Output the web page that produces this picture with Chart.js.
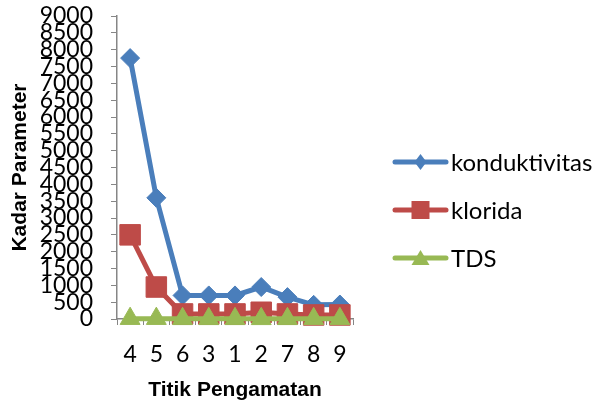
<!DOCTYPE html>
<html>
<head>
<meta charset="utf-8">
<script src="https://cdn.jsdelivr.net/npm/chart.js@4.4.1/dist/chart.umd.min.js"></script>
<style>
    html, body { margin: 0; padding: 0; background: #ffffff; }
    #wrap { width: 607px; height: 401px; }
</style>
</head>
<body>
<div id="wrap"><canvas id="kadarChart"></canvas></div>
<script>
// titik pengamatan, urut seperti di grafik
var titikLabels = ['4', '5', '6', '3', '1', '2', '7', '8', '9'];

var konduktivitas = [7750, 3600, 700, 700, 700, 950, 650, 420, 430];
var klorida = [2500, 950, 150, 150, 150, 200, 150, 120, 120];
var tds = [10, 10, 5, 5, 5, 5, 5, 5, 5];

var seriesNames = ['konduktivitas', 'klorida', 'TDS'];
var seriesColors = ['#4a7ebb', '#be4b48', '#98b954'];
var seriesShapes = ['rectRot', 'rect', 'triangle'];

var yMin = 0;
var yMax = 9000;
var yStep = 500;

var axisColor = '#868686';

// legenda digambar sendiri (legend bawaan di kanan dibatasi lebarnya)
var legendX = 393;
var legendY = 162;
var legendGap = 48;

function drawLegendMarker(ctx, x, y, color, shape) {
    ctx.strokeStyle = color;
    ctx.fillStyle = color;
    ctx.lineWidth = 5;
    ctx.lineCap = 'round';
    ctx.beginPath();
    ctx.moveTo(x + 2, y);
    ctx.lineTo(x + 53, y);
    ctx.stroke();

    var cx = x + 27.5;
    ctx.beginPath();
    if (shape === 'rectRot') {
        ctx.moveTo(cx, y - 8);
        ctx.lineTo(cx + 6, y);
        ctx.lineTo(cx, y + 8);
        ctx.lineTo(cx - 6, y);
    } else if (shape === 'rect') {
        ctx.rect(cx - 9, y - 9, 18, 18);
    } else {
        ctx.moveTo(cx, y - 8);
        ctx.lineTo(cx + 9, y + 7);
        ctx.lineTo(cx - 9, y + 7);
    }
    ctx.closePath();
    ctx.fill();
}

var legendKanan = {
    id: 'legendKanan',
    afterDraw: function (chart) {
        var ctx = chart.ctx;
        ctx.save();
        chart.data.datasets.forEach(function (ds, i) {
            var y = legendY + i * legendGap;
            drawLegendMarker(ctx, legendX, y, ds.borderColor, ds.pointStyle);
            ctx.fillStyle = '#000000';
            ctx.font = '24px Lato';
            ctx.textBaseline = 'middle';
            ctx.textAlign = 'left';
            ctx.fillText(ds.label, legendX + 58, y + 1);
        });
        ctx.restore();
    }
};

var pointRadius = [9.5, 14.5, 11.5];
// seri terakhir (TDS) digambar paling atas, seperti di Excel
var drawOrder = [2, 1, 0];

function makeDataset(i, values) {
    return {
        label: seriesNames[i],
        data: values,
        order: drawOrder[i],
        borderColor: seriesColors[i],
        backgroundColor: seriesColors[i],
        borderWidth: 5,
        pointStyle: seriesShapes[i],
        pointRadius: pointRadius[i],
        pointBorderWidth: 1,
        pointBackgroundColor: seriesColors[i],
        pointBorderColor: seriesColors[i],
        tension: 0,
        clip: false
    };
}

var kadarChart = new Chart(document.getElementById('kadarChart').getContext('2d'), {
    type: 'line',
    data: {
        labels: titikLabels,
        datasets: [
            makeDataset(0, konduktivitas),
            makeDataset(1, klorida),
            makeDataset(2, tds)
        ]
    },
    options: {
        responsive: true,
        maintainAspectRatio: false,
        animation: false,
        layout: {
            padding: { left: 8, top: 0, right: 254, bottom: 0 }
        },
        plugins: {
            tooltip: { enabled: false },
            legend: { display: false }
        },
        scales: {
            x: {
                offset: true,
                grid: {
                    offset: true,
                    drawOnChartArea: false,
                    drawTicks: true,
                    tickLength: 6,
                    color: axisColor
                },
                border: { color: axisColor, width: 1.5 },
                ticks: {
                    autoSkip: false,
                    maxRotation: 0,
                    color: '#000000',
                    padding: 18,
                    font: { family: 'Lato', size: 23, lineHeight: 1 }
                },
                title: {
                    display: true,
                    text: 'Titik Pengamatan',
                    color: '#000000',
                    font: { family: 'Liberation Sans', size: 21, weight: 'bold', lineHeight: 1 },
                    padding: { top: 2, bottom: 0 }
                },
                afterFit: function (scale) {
                    // tinggi sumbu x tetap, supaya garis sumbu jatuh di posisi yang sama
                    scale.height = 82;
                }
            },
            y: {
                min: yMin,
                max: yMax,
                grid: {
                    drawOnChartArea: false,
                    drawTicks: true,
                    tickLength: 6,
                    color: axisColor
                },
                border: { color: axisColor, width: 1.5 },
                ticks: {
                    stepSize: yStep,
                    autoSkip: false,
                    color: '#000000',
                    padding: 18,
                    font: { family: 'Lato', size: 23, lineHeight: 1 },
                    callback: function (value) {
                        return String(value);
                    }
                },
                title: {
                    display: true,
                    text: 'Kadar Parameter',
                    color: '#000000',
                    font: { family: 'Liberation Sans', size: 21, weight: 'bold' },
                    padding: { top: 0, bottom: 4 }
                },
                afterFit: function (scale) {
                    scale.width = 109;
                    scale.paddingTop = 16;
                    scale.paddingBottom = 0;
                }
            }
        }
    },
    plugins: [legendKanan]
});
</script>
</body>
</html>
